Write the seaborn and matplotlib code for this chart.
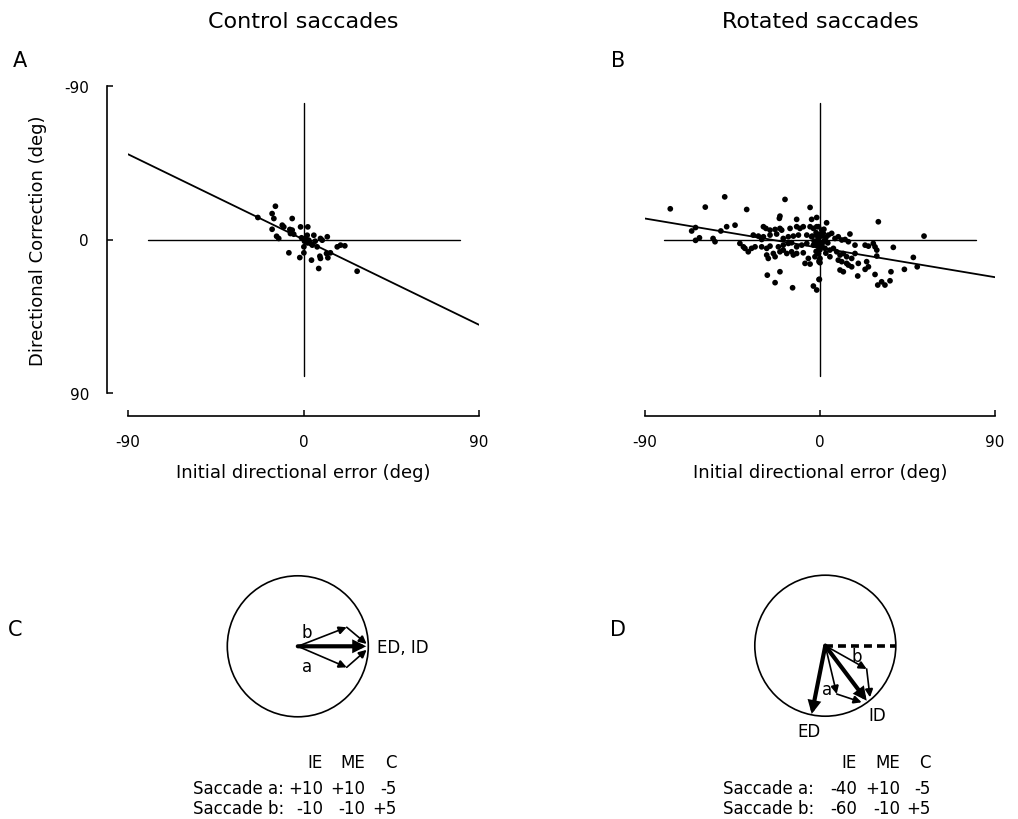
import matplotlib
matplotlib.use("Agg")
import matplotlib.pyplot as plt
import seaborn as sns
from matplotlib.patches import Circle

sns.set_theme(style="white", rc={
    "axes.edgecolor": "black", "xtick.color": "black", "ytick.color": "black",
    "text.color": "black", "axes.labelcolor": "black",
})
plt.rcParams['font.family'] = ['DejaVu Sans']
plt.rcParams['axes.unicode_minus'] = False

# ---------------- data ----------------
# Panel A: control saccades (initial directional error, directional correction), deg
a_err = [-14.4, -16.1, -15.2, -23.4, -5.8, -10.9, -10.1, -16.1, -7.0, -5.8,
         -1.5, 2.2, -6.7, -13.8, -12.7, -5.0, 1.9, 1.0, 2.7, 5.3,
         3.6, 4.5, 8.7, 9.6, 12.2, 7.0, 0.2, 0.2, -7.5, -1.9,
         4.1, 8.4, 8.7, 7.8, 11.8, 12.5, 13.8, 17.3, 19.0, 21.2,
         27.5, 0.5, -1.0, 2.0, 6.0]
a_corr = [-19.5, -15.2, -12.3, -12.9, -12.3, -8.4, -7.4, -6.0, -5.9, -5.5,
          -7.4, -7.4, -3.5, -1.9, -0.6, -3.1, -2.5, -0.6, 0.4, -2.5,
          2.3, 3.3, -0.6, 0.4, -1.6, 4.3, 4.3, 7.8, 7.8, 10.6,
          12.1, 9.8, 11.1, 17.0, 8.2, 10.7, 7.8, 4.3, 3.3, 3.7,
          18.6, 1.0, -1.0, 2.0, 1.0]

# Panel B: rotated saccades
b_err = [
    -77, -59, -49, -66, -64, -62, -64, -55, -54, -51, -48, 48, 50, 53.5,
    -43.7, -37.7, -18.0, -5.1, -20.6, -20.9, -12.0, -4.3, -1.7,
    -29.1, -27.8, -25.7, -23.1, -20.6, -19.7, -15.4, -12.0, -10.3, -8.6, -5.1, -3.4, -0.8,
    -34.3, -31.7, -29.1, -30.0, -25.7, -22.3, -18.9, -16.3, -13.7, -11.1, -6.8, -4.3, -1.7,
    -41.2, -39.4, -38.6, -36.9, -35.2, -33.4, -30.0, -27.4, -25.7, -21.4, -18.9, -16.3, -14.6,
    -12.0, -9.4, -6.8, -3.4, -1.7, -0.8,
    -27.4, -26.6, -24.0, -23.1, -20.6, -18.9, -17.1, -14.6, -13.7, -12.0, -8.6, -7.7, -6.0,
    -5.1, -2.6, -0.8, -0.3, 0.0,
    -27.1, -20.6, -23.1, -14.1, -3.4, -0.3,
    3.4, -1.7, 0.9, 1.7, 4.3, 6.0, 7.7, 9.4, 11.2, 12.9, 14.6, 15.4, 18.0,
    -0.9, 0.0, 0.9, 2.6, 5.1, 6.9, 8.6, 10.3, 12.0, 13.7, 16.3, 18.0,
    -0.9, 0.0, -0.5, 5.1, 9.4, 11.2, 13.7, 14.6, 16.3, 19.7,
    23.2, 24.9, 27.4, 28.3, 29.2, 30.0, 37.7, 29.2, 24.0, 24.9, 23.2,
    10.3, 12.0, 19.4, 28.3, 29.7, 31.7, 33.4, 36.0, 36.5, 43.4, -0.5, -1.7,
    -2, 1, 2, -1, 3, 0, -3, 2, -1, 1, 4, -2, 0, 3, -4,
]
b_corr = [
    -18, -19, -25, -5, -7, -1, 0.5, -0.6, 1.3, -5, -7.5, 10.5, 16, -2,
    -8.4, -17.6, -23.5, -18.8, -13.7, -12.4, -11.8, -11.8, -12.9,
    -7.5, -6.5, -5.5, -5.9, -6.5, -5.5, -6.5, -7.5, -6.5, -7.5, -7.5, -6.5, -7.5,
    -2.6, -2.0, -1.6, 0.0, -2.6, -3.2, -0.6, -1.6, -2.0, -2.6, -2.6, -1.6, -2.6,
    2.3, 4.3, 5.2, 7.2, 5.2, 4.3, 4.3, 5.2, 3.9, 4.3, 3.3, 2.3, 1.9,
    4.3, 3.3, 2.3, 3.3, 2.3, 4.3,
    9.1, 11.1, 8.2, 10.1, 7.2, 6.2, 8.2, 7.2, 9.1, 8.2, 7.8, 14.0, 11.1,
    14.4, 10.1, 8.2, 12.1, 13.6,
    20.9, 18.9, 25.3, 28.3, 27.3, 23.4,
    -9.8, -7.5, -5.5, -3.6, -2.6, -3.6, -0.6, -1.6, 0.3, 0.0, 1.3, -3.2, 3.3,
    0.3, 2.3, 4.3, 5.2, 6.2, 5.2, 7.2, 9.1, 8.2, 10.1, 11.1, 8.2,
    8.2, 11.1, 13.0, 10.1, 12.1, 13.0, 14.0, 15.0, 16.0, 14.0,
    3.3, 3.9, 2.3, 4.3, 6.2, -10.4, 4.6, 9.7, 13.0, 16.0, 17.5,
    17.9, 18.9, 21.4, 20.5, 26.7, 24.8, 26.7, 24.2, 18.9, 17.5, 23.4, 29.6,
    -4, -2, 1, 3, -1, 6, 1, -6, -1, 3, 2, 7, -3, 8, -2,
]

# regression lines (end points)
fit_x = [-90, 90]
a_fit_y = [-50.0, 50.0]
b_fit_y = [-12.3, 22.1]

tick_vals = [-90, 0, 90]
tick_labels = ['-90', '0', '90']
cross_half = 80

# schematic vectors (units of circle radius, y up)
c_thick = (0.97, 0.0)
c_a = [(0.694, -0.298), (0.977, -0.05)]
c_b = [(0.694, 0.27), (0.977, 0.033)]
d_ed = (-0.193, -0.969)
d_id = (0.587, -0.780)
d_a = [(0.162, -0.685), (0.516, -0.803)]
d_b = [(0.587, -0.330), (0.634, -0.732)]

table_header = ['IE', 'ME', 'C']
c_rows = [('Saccade a:', ['+10', '+10', '-5']), ('Saccade b:', ['-10', '-10', '+5'])]
d_rows = [('Saccade a:', ['-40', '+10', '-5']), ('Saccade b:', ['-60', '-10', '+5'])]

# ---------------- figure ----------------
W, H = 1018, 820
fig = plt.figure(figsize=(W / 100, H / 100), dpi=100)
fig.patch.set_facecolor('white')


def px_axes(l, t, r, b):
    return fig.add_axes([l / W, 1 - b / H, (r - l) / W, (b - t) / H])


def scatter_panel(ax, xs, ys, fy, show_y):
    ax.plot([-cross_half, cross_half], [0, 0], color='black', lw=1.0, zorder=1)
    ax.plot([0, 0], [-cross_half, cross_half], color='black', lw=1.0, zorder=1)
    sns.lineplot(x=fit_x, y=fy, ax=ax, color='black', lw=1.3, zorder=2)
    sns.scatterplot(x=xs, y=ys, ax=ax, color='black', s=17, linewidth=0,
                    edgecolor='none', legend=False, zorder=3)
    ax.set_xlim(-90, 90)
    ax.set_ylim(90, -90)
    ax.set_xticks(tick_vals)
    ax.set_xticklabels(tick_labels)
    ax.tick_params(axis='both', direction='in', length=4, width=1.1,
                   pad=13, labelsize=11, bottom=True, left=show_y)
    ax.set_xlabel('Initial directional error (deg)', fontsize=13)
    ax.xaxis.set_label_coords(0.5, -0.228)
    for s in ax.spines.values():
        s.set_linewidth(1.2)
    if show_y:
        ax.set_yticks(tick_vals)
        ax.set_yticklabels(tick_labels)
        ax.set_ylabel('Directional Correction (deg)', fontsize=13)
        ax.yaxis.set_label_coords(-0.232, 0.5)
        sns.despine(ax=ax, offset={'left': 15, 'bottom': 16.5})
    else:
        ax.set_yticks([])
        ax.set_ylabel('')
        sns.despine(ax=ax, left=True, offset={'bottom': 16.5})


axA = px_axes(128, 87, 479, 394)
scatter_panel(axA, a_err, a_corr, a_fit_y, True)
axB = px_axes(645, 87, 995, 394)
scatter_panel(axB, b_err, b_corr, b_fit_y, False)


def arrow(ax, start, end, lw, ms):
    ax.annotate('', xy=end, xytext=start,
                arrowprops=dict(arrowstyle='-|>', color='black', lw=lw,
                                mutation_scale=ms, shrinkA=0, shrinkB=0,
                                joinstyle='miter'))


R = 70.5  # px per unit


def diagram_axes(cx, cy):
    l, r, t, b = cx - 105, cx + 155, 560, 740
    ax = px_axes(l, t, r, b)
    ax.set_xlim((l - cx) / R, (r - cx) / R)
    ax.set_ylim((cy - b) / R, (cy - t) / R)
    ax.axis('off')
    ax.add_patch(Circle((0, 0), 1.0, fill=False, lw=1.2, color='black'))
    return ax


axC = diagram_axes(297.8, 647.3)
arrow(axC, (0, 0), c_thick, 3.0, 13)
for path in (c_a, c_b):
    arrow(axC, (0, 0), path[0], 1.2, 12)
    arrow(axC, path[0], path[1], 1.2, 12)
axC.text(0.126, 0.207, 'b', fontsize=12, ha='center', va='center')
axC.text(0.126, -0.275, 'a', fontsize=12, ha='center', va='center')
axC.text(1.12, -0.014, 'ED, ID', fontsize=12, ha='left', va='center')

axD = diagram_axes(825.3, 646.7)
axD.plot([0, 1.0], [0, 0], color='black', lw=2.6, ls=(0, (2.2, 1.4)))
arrow(axD, (0, 0), d_ed, 3.0, 13)
arrow(axD, (0, 0), d_id, 3.0, 13)
for path in (d_a, d_b):
    arrow(axD, (0, 0), path[0], 1.2, 12)
    arrow(axD, path[0], path[1], 1.2, 12)
axD.text(0.445, -0.142, 'b', fontsize=12, ha='center', va='center')
axD.text(0.02, -0.614, 'a', fontsize=12, ha='center', va='center')
axD.text(0.74, -0.99, 'ID', fontsize=12, ha='center', va='center')
axD.text(-0.233, -1.204, 'ED', fontsize=12, ha='center', va='center')


def table(x0, col_right, rows):
    for name, xr in zip(table_header, col_right):
        fig.text(xr / W, 1 - 763 / H, name, fontsize=12, ha='right', va='center')
    for (label, vals), y in zip(rows, (789, 809)):
        fig.text(x0 / W, 1 - y / H, label, fontsize=12, ha='left', va='center')
        for v, xr in zip(vals, col_right):
            fig.text(xr / W, 1 - y / H, v, fontsize=12, ha='right', va='center')


table(193, [323, 365, 397], c_rows)
table(723, [857, 900, 931], d_rows)

# titles and panel letters
fig.text(303 / W, 1 - 22 / H, 'Control saccades', fontsize=16, ha='center', va='center')
fig.text(820 / W, 1 - 22 / H, 'Rotated saccades', fontsize=16, ha='center', va='center')
for letter, x, y in (('A', 13, 61), ('B', 611, 61), ('C', 8, 630), ('D', 610, 630)):
    fig.text(x / W, 1 - y / H, letter, fontsize=15, ha='left', va='center')

fig.savefig('out.png', dpi=100, facecolor='white')
